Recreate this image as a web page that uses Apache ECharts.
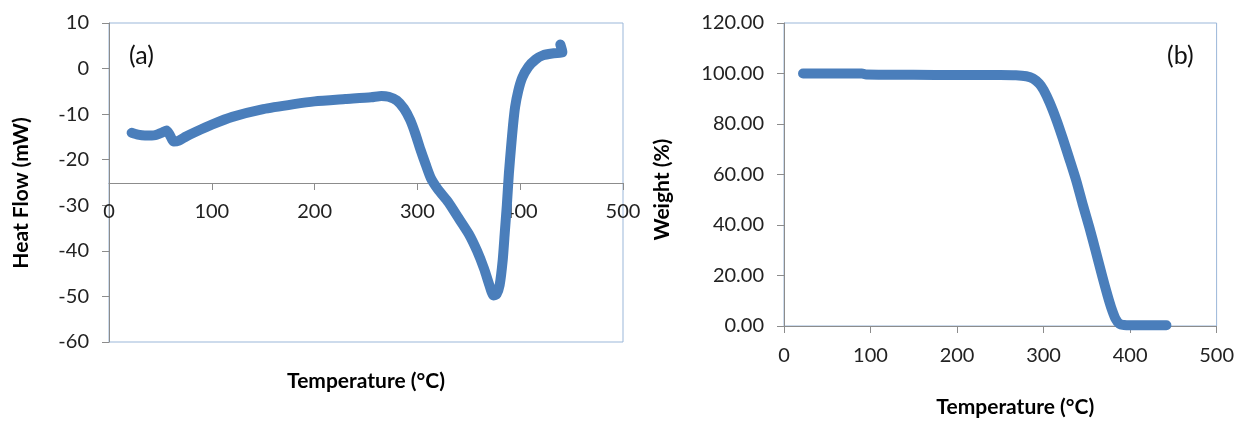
<!DOCTYPE html>
<html>
<head>
<meta charset="utf-8">
<script src="https://cdn.jsdelivr.net/npm/echarts@6/dist/echarts.min.js"></script>
<style>
html, body { margin: 0; padding: 0; background: #fff; }
#main { width: 1237px; height: 423px; }
</style>
</head>
<body>
<div id="main"></div>
<script>
// (a) DSC curve
var tempA = [22, 28, 35, 45, 52, 56, 59, 63, 68, 75, 85, 100, 120, 150, 180, 200, 230, 255, 265, 272, 280, 287, 293, 298, 303, 308, 313, 320, 330, 340, 350, 358, 365, 370, 374, 377, 380, 383, 385, 387, 389, 391, 393, 395, 398, 402, 408, 415, 422, 431, 440, 441, 439];
var heatFlow = [-14.1, -14.5, -14.7, -14.6, -14.0, -13.6, -14.5, -16.0, -15.8, -14.9, -13.8, -12.3, -10.6, -8.9, -7.8, -7.2, -6.7, -6.3, -6.0, -6.2, -7.0, -8.8, -11.3, -14.3, -17.8, -21.0, -24.0, -26.5, -29.3, -32.8, -36.3, -40.0, -44.0, -47.5, -49.8, -49.5, -47.5, -42.0, -36.0, -30.0, -23.0, -17.5, -12.5, -8.5, -5.0, -2.0, 0.4, 2.0, 2.9, 3.3, 3.5, 3.6, 5.3];

// (b) TGA curve
var tempB = [22, 60, 90, 95, 150, 200, 250, 268, 280, 288, 295, 300, 307, 315, 322, 330, 338, 345, 353, 360, 368, 374, 378, 383, 388, 393, 400, 420, 442];
var weight = [100, 100, 100, 99.6, 99.5, 99.4, 99.4, 99.3, 98.9, 98.0, 96.0, 93.5, 88.5, 81.5, 74.5, 66.0, 57.3, 48.5, 39.0, 30.0, 19.5, 12.0, 7.5, 3.0, 0.8, 0.4, 0.3, 0.3, 0.3];

var pairs = function (xs, ys) {
    var res = [];
    for (var i = 0; i < xs.length; i++) {
        res.push([xs[i], ys[i]]);
    }
    return res;
};

var myChart = echarts.init(document.getElementById('main'));
var font = 'Lato';
var axisGray = '#8c8c8c';
var lineBlue = '#4a7ebb';
var labelStyle = { fontFamily: font, fontSize: 20, color: '#222' };
var nameStyle = { fontFamily: font, fontSize: 21, fontWeight: 'bold', color: '#000' };
var tagStyle = { fontFamily: font, fontSize: 25, fontWeight: 'normal', color: '#111' };

var option = {
    backgroundColor: '#fff',
    animation: false,
    title: [
        { text: '(a)', left: 124, top: 38, textStyle: tagStyle },
        { text: '(b)', left: 1162, top: 38, textStyle: tagStyle }
    ],
    grid: [
        { left: 109, top: 23, width: 514, height: 319, show: true, borderColor: '#9bb7d9', borderWidth: 1 },
        { left: 784, top: 23, width: 433, height: 307, show: true, borderColor: '#9bb7d9', borderWidth: 1 }
    ],
    xAxis: [
        {
            gridIndex: 0, type: 'value', min: 0, max: 500, interval: 100,
            position: 'bottom', offset: -160,   // crosses at -25
            name: 'Temperature (°C)', nameLocation: 'middle', nameGap: 189,
            nameTextStyle: nameStyle,
            axisLine: { show: true, lineStyle: { color: axisGray } },
            axisTick: { show: true, length: 7, lineStyle: { color: axisGray } },
            axisLabel: Object.assign({ margin: 20 }, labelStyle),
            splitLine: { show: false }
        },
        {
            gridIndex: 1, type: 'value', min: 0, max: 500, interval: 100,
            name: 'Temperature (°C)', nameLocation: 'middle', nameGap: 71,
            nameTextStyle: Object.assign({}, nameStyle, { padding: [0, 0, 0, 30] }),
            axisLine: { show: true, lineStyle: { color: axisGray } },
            axisTick: { show: true, length: 7, lineStyle: { color: axisGray } },
            axisLabel: Object.assign({ margin: 20 }, labelStyle),
            splitLine: { show: false }
        }
    ],
    yAxis: [
        {
            gridIndex: 0, type: 'value', min: -60, max: 10, interval: 10,
            name: 'Heat Flow (mW)', nameLocation: 'middle', nameGap: 77,
            nameTextStyle: Object.assign({}, nameStyle, { padding: [0, 21, 0, 0] }),
            axisLine: { show: true, lineStyle: { color: axisGray } },
            axisTick: { show: true, length: 7, lineStyle: { color: axisGray } },
            axisLabel: Object.assign({ margin: 20 }, labelStyle),
            splitLine: { show: false }
        },
        {
            gridIndex: 1, type: 'value', min: 0, max: 120, interval: 20,
            name: 'Weight (%)', nameLocation: 'middle', nameGap: 111,
            nameTextStyle: Object.assign({}, nameStyle, { padding: [0, 30, 0, 0] }),
            axisLine: { show: true, lineStyle: { color: axisGray } },
            axisTick: { show: true, length: 7, lineStyle: { color: axisGray } },
            axisLabel: Object.assign({ margin: 20, formatter: function (v) { return v.toFixed(2); } }, labelStyle),
            splitLine: { show: false }
        }
    ],
    series: [
        {
            name: 'Heat Flow', type: 'line', xAxisIndex: 0, yAxisIndex: 0,
            showSymbol: false, smooth: 0.2,
            lineStyle: { color: lineBlue, width: 10, cap: 'round', join: 'round' },
            data: pairs(tempA, heatFlow)
        },
        {
            name: 'Weight', type: 'line', xAxisIndex: 1, yAxisIndex: 1,
            showSymbol: false, smooth: 0.2,
            lineStyle: { color: lineBlue, width: 10, cap: 'round', join: 'round' },
            data: pairs(tempB, weight)
        }
    ]
};
myChart.setOption(option);
</script>
</body>
</html>
